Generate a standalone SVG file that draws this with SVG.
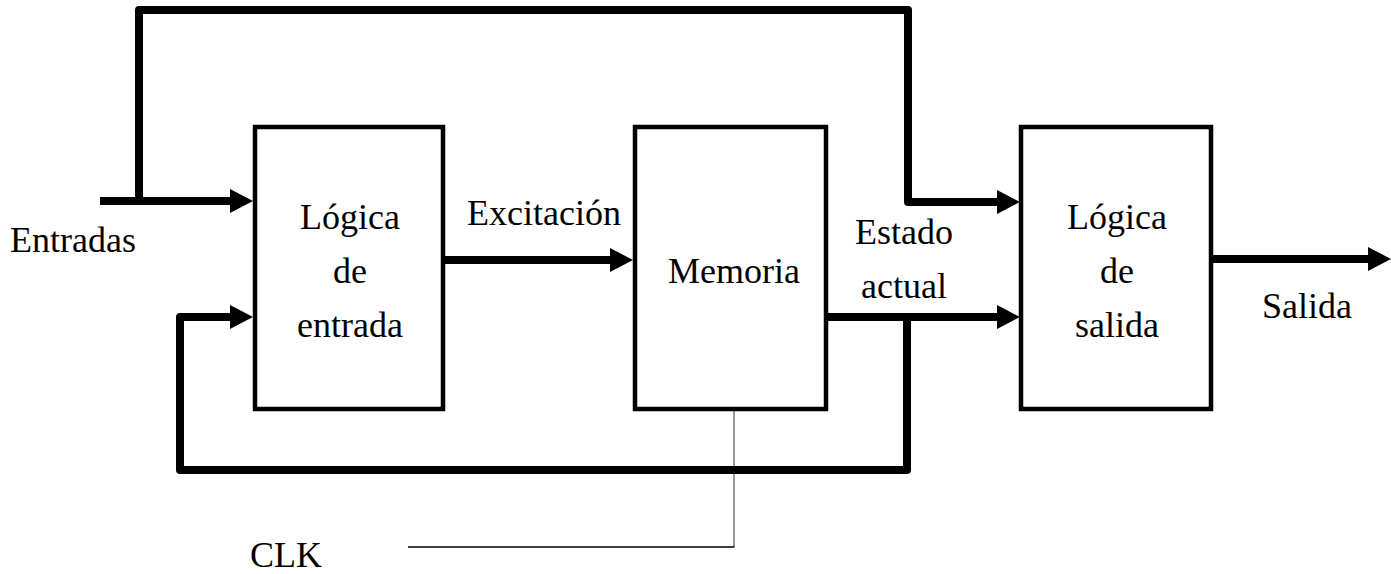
<svg xmlns="http://www.w3.org/2000/svg" width="1391" height="574" viewBox="0 0 1391 574">
<style>
  .box { fill: #fff; stroke: #000; stroke-width: 4.5; }
  .wire { fill: none; stroke: #000; stroke-width: 8; stroke-linejoin: round; }
  .thin { fill: none; stroke: #000; stroke-width: 1.3; }
  .clkv { fill: none; stroke: #777; stroke-width: 1.5; }
  text { font-family: 'Liberation Serif', Tinos, 'DejaVu Serif', serif; font-size: 36px; fill: #000; }
  .c { text-anchor: middle; }
</style>
<defs>
  <marker id="arr" markerUnits="userSpaceOnUse" markerWidth="24" markerHeight="26" refX="0" refY="12" orient="auto" overflow="visible">
    <path d="M0,0 L23,12 L0,24 z" fill="#000"/>
  </marker>
</defs>
<rect width="1391" height="574" fill="#fff"/>
<g id="connectors">
  <path class="clkv" d="M734,409 V547"/>
  <path class="thin" d="M408,547 H734.5"/>
  <path class="wire" d="M100,201 H230" marker-end="url(#arr)"/>
  <path class="wire" d="M139,201 V10 H908 V202 H997" marker-end="url(#arr)"/>
  <path class="wire" d="M443,260 H610" marker-end="url(#arr)"/>
  <path class="wire" d="M826,317 H997" marker-end="url(#arr)"/>
  <path class="wire" d="M907,317 V470 H180 V317 H230" marker-end="url(#arr)"/>
  <path class="wire" d="M1211,259 H1368" marker-end="url(#arr)"/>
</g>
<g id="logica-entrada">
  <rect class="box" x="255" y="127" width="188" height="282"/>
  <text class="c" x="350" y="229">Lógica</text>
  <text class="c" x="350" y="283">de</text>
  <text class="c" x="350" y="337">entrada</text>
</g>
<g id="memoria">
  <rect class="box" x="635" y="127" width="191" height="282"/>
  <text class="c" x="734" y="283">Memoria</text>
</g>
<g id="logica-salida">
  <rect class="box" x="1021" y="127" width="190" height="282"/>
  <text class="c" x="1117" y="229">Lógica</text>
  <text class="c" x="1117" y="283">de</text>
  <text class="c" x="1117" y="337">salida</text>
</g>
<g id="labels">
  <text x="10" y="252">Entradas</text>
  <text class="c" x="544" y="225">Excitación</text>
  <text class="c" x="904" y="244">Estado</text>
  <text class="c" x="904" y="298">actual</text>
  <text class="c" x="1307" y="318">Salida</text>
  <text x="250" y="567">CLK</text>
</g>
</svg>
